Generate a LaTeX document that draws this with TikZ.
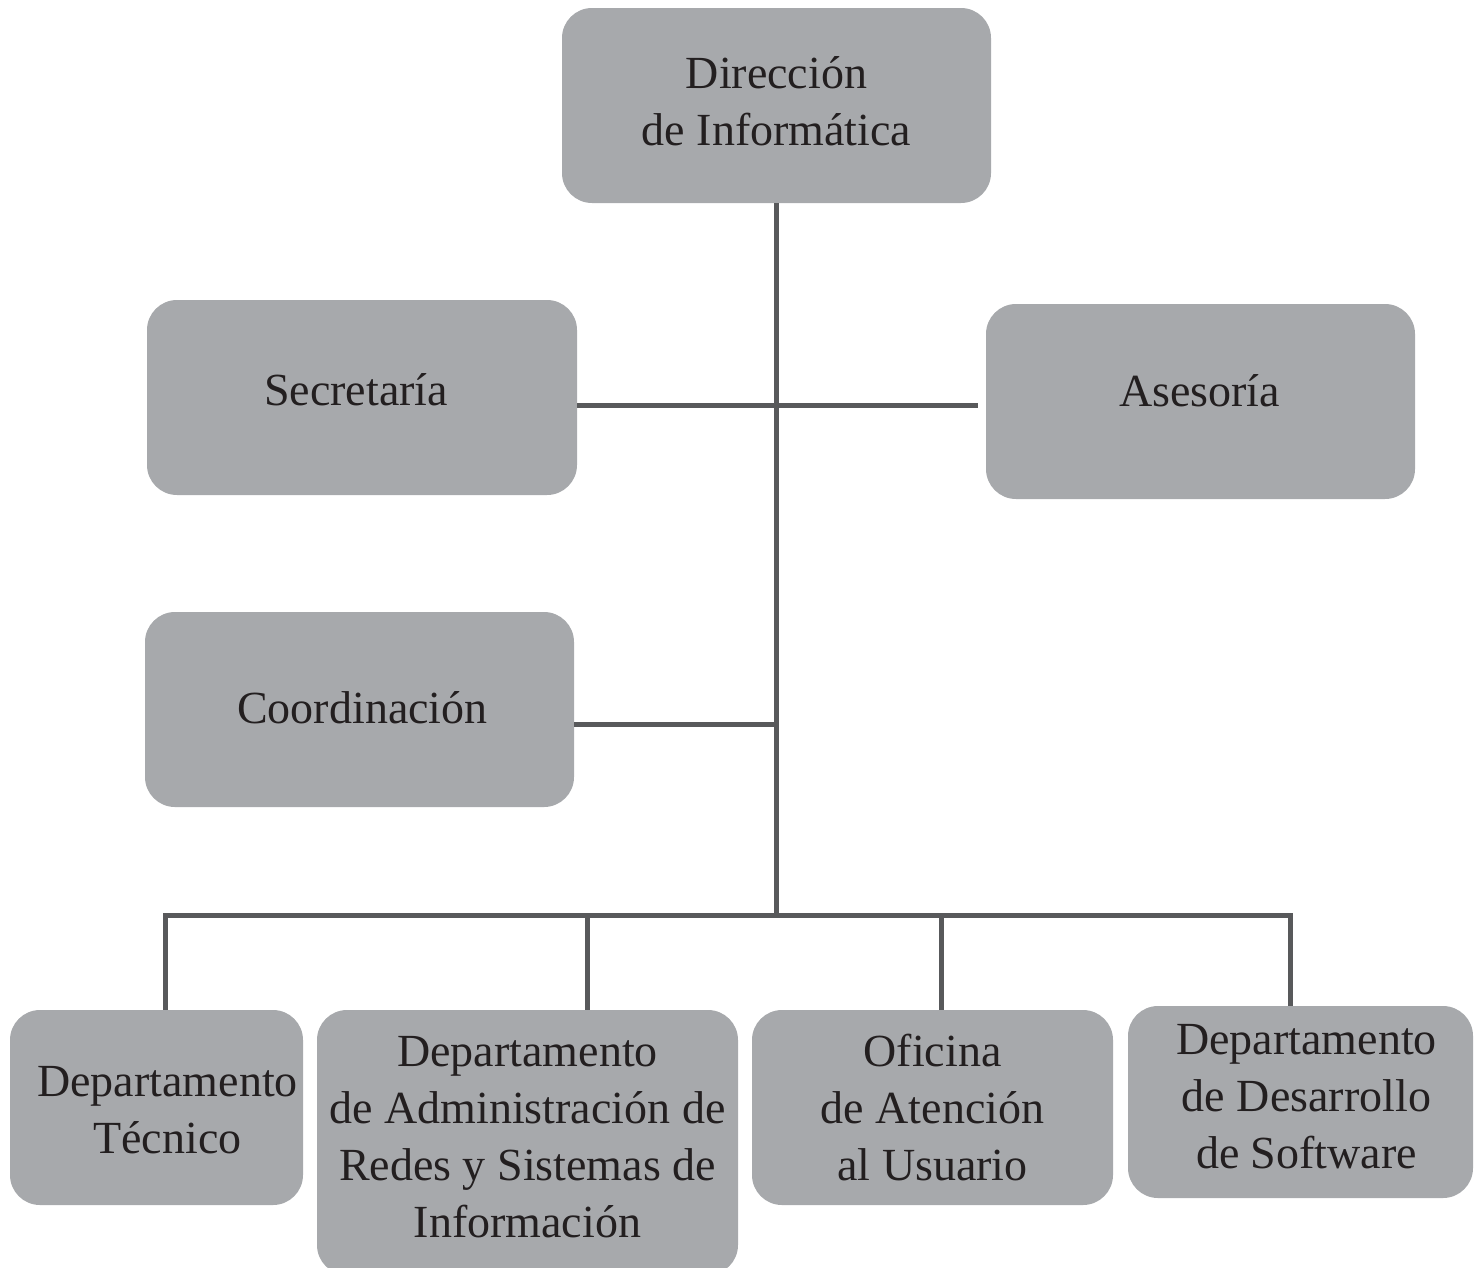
\documentclass[tikz,border=0pt]{standalone}
\usepackage{fontspec}
\setmainfont{Liberation Serif}
\definecolor{boxgray}{HTML}{A7A9AC}
\definecolor{linegray}{HTML}{58595B}
\definecolor{txt}{HTML}{231F20}
\begin{document}
\begin{tikzpicture}[x=1pt,y=-1pt,
  orgtext/.style={align=center, text=txt, inner sep=0pt, font=\fontsize{46}{57}\selectfont},
  orgbox/.style={fill=boxgray, draw=none, rounded corners=30pt, inner sep=0pt, orgtext},
  link/.style={draw=linegray, line width=5pt}]
\useasboundingbox (0,0) rectangle (1483,1267);
\clip (0,0) rectangle (1483,1267);
% boxes
\node[orgbox, minimum width=429pt, minimum height=195pt,
  label={[orgtext, yshift=4pt]center:Dirección\\de Informática}] (dir) at (776.5,105.5) {};
\node[orgbox, minimum width=430pt, minimum height=195pt,
  label={[orgtext, xshift=-6pt, yshift=8pt]center:Secretaría}] (sec) at (362,397.5) {};
\node[orgbox, minimum width=429pt, minimum height=195pt,
  label={[orgtext, xshift=-1pt, yshift=11pt]center:Asesoría}] (ase) at (1200.5,401.5) {};
\node[orgbox, minimum width=429pt, minimum height=195pt,
  label={[orgtext, xshift=3pt, yshift=2pt]center:Coordinación}] (coo) at (359.5,709.5) {};
\node[orgbox, minimum width=293pt, minimum height=195pt,
  label={[orgtext, xshift=11pt, yshift=-3pt]center:Departamento\\Técnico}] (tec) at (156.5,1107.5) {};
\node[orgbox, minimum width=421pt, minimum height=265pt,
  label={[orgtext, yshift=5pt]center:Departamento\\de Administración de\\Redes y Sistemas de\\Información}] (adm) at (527.5,1142.5) {};
\node[orgbox, minimum width=361pt, minimum height=195pt,
  label={[orgtext]center:Oficina\\de Atención\\al Usuario}] (ofi) at (932.5,1107.5) {};
\node[orgbox, minimum width=345pt, minimum height=192pt,
  label={[orgtext, xshift=6pt, yshift=5pt]center:Departamento\\de Desarrollo\\de Software}] (des) at (1300.5,1102) {};
% connectors
\coordinate (hub) at (776.5,917.5);
\coordinate (sa) at (978,405);
\coordinate (cj) at (779,724);
\coordinate (bl) at (163,915);
\coordinate (br) at (1293,915);
\coordinate (d1) at (165,915);
\coordinate (d2) at (587,915);
\coordinate (d3) at (941,915);
\coordinate (d4) at (1290,915);
\path[link] (dir.south) -- (hub);
\path[link] (sec.east |- sa) -- (sa);
\path[link] (coo.east |- cj) -- (cj);
\path[link] (bl) -- (br);
\path[link] (d1) -- (d1 |- tec.north);
\path[link] (d2) -- (d2 |- adm.north);
\path[link] (d3) -- (d3 |- ofi.north);
\path[link] (d4) -- (d4 |- des.north);
\end{tikzpicture}
\end{document}
